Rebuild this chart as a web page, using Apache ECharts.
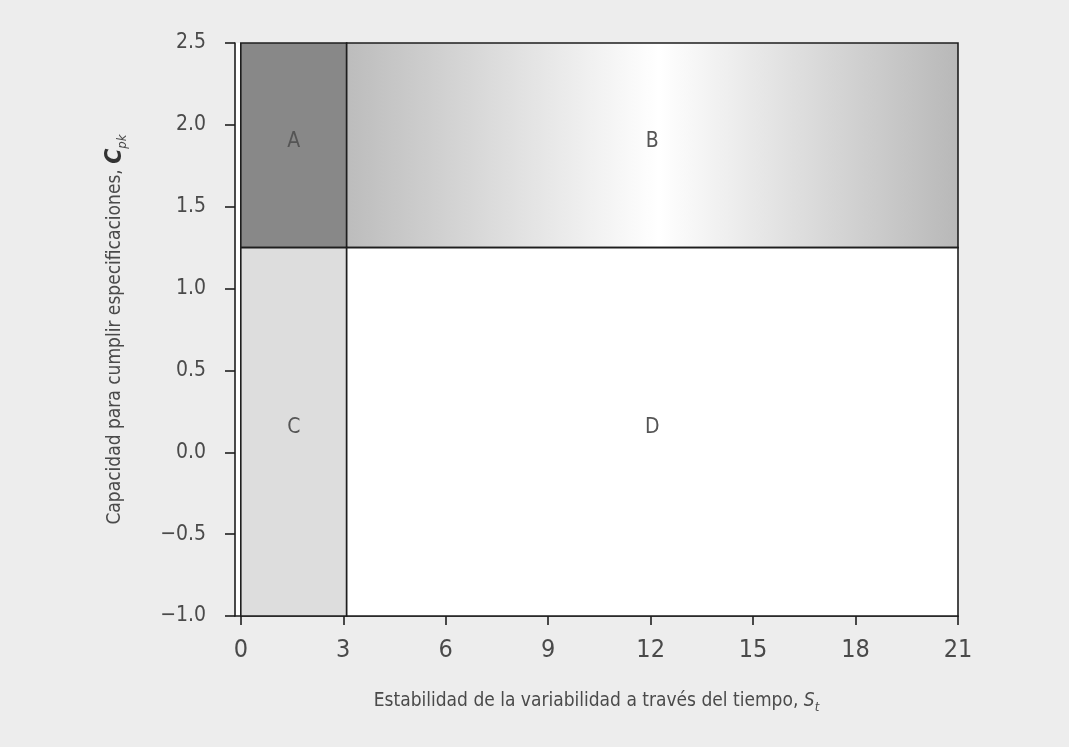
<!DOCTYPE html>
<html>
<head>
<meta charset="utf-8">
<script src="https://cdn.jsdelivr.net/npm/echarts@6/dist/echarts.min.js"></script>
<style>
html,body{margin:0;padding:0;background:#ededed;}
#chart{width:1069px;height:747px;}
</style>
</head>
<body>
<div id="chart"></div>
<script>
// ---- data ----
const regionNames = ['A', 'B', 'C', 'D'];
const regionX0 = [0, 3.1, 0, 3.1];
const regionX1 = [3.1, 21, 3.1, 21];
const regionY0 = [1.25, 1.25, -1.0, -1.0];
const regionY1 = [2.5, 2.5, 1.25, 1.25];
const xTicks = [0, 3, 6, 9, 12, 15, 18, 21];
const yMin = -1.0, yMax = 2.5, yStep = 0.5;

const FONT = "'Liberation Sans Narrow', 'DejaVu Sans Condensed', Roboto, sans-serif";
const regionFill = [
  '#888888',
  { type: 'linear', x: 0, y: 0, x2: 1, y2: 0, colorStops: [
      { offset: 0, color: '#bcbcbc' },
      { offset: 0.51, color: '#ffffff' },
      { offset: 1, color: '#b8b8b8' }] },
  '#dddddd',
  '#ffffff'
];

const areas = regionNames.map((n, i) => [
  { name: n, xAxis: regionX0[i], yAxis: regionY0[i],
    itemStyle: { color: regionFill[i], borderColor: '#1e1e1e', borderWidth: 1.6, opacity: 1 } },
  { xAxis: regionX1[i], yAxis: regionY1[i] }
]);

const chart = echarts.init(document.getElementById('chart'), null, { renderer: 'canvas' });
chart.setOption({
  backgroundColor: '#ededed',
  animation: false,
  textStyle: { fontFamily: FONT },
  grid: { left: 235, right: 111, top: 43, bottom: 131, show: true, backgroundColor: '#ffffff', borderWidth: 0 },
  xAxis: {
    type: 'value', min: -0.17, max: 21,
    splitLine: { show: false },
    axisLine: { onZero: false, lineStyle: { color: '#1e1e1e', width: 1.6 } },
    axisTick: { customValues: xTicks, length: 9, lineStyle: { color: '#1e1e1e', width: 1.6 } },
    axisLabel: { customValues: xTicks, fontSize: 25, color: '#4a4a4a', margin: 22, fontFamily: FONT },
    name: '{t|Estabilidad de la variabilidad a través del tiempo, }{s|S}{sub|t}',
    nameLocation: 'middle', nameGap: 72,
    nameTextStyle: {
      rich: {
        t: { fontSize: 19, color: '#4a4a4a', fontFamily: FONT, lineHeight: 26, verticalAlign: 'middle' },
        s: { fontSize: 19, color: '#4a4a4a', fontFamily: FONT, fontStyle: 'italic', lineHeight: 26, verticalAlign: 'middle' },
        sub: { fontSize: 13, color: '#4a4a4a', fontFamily: FONT, fontStyle: 'italic', verticalAlign: 'bottom', lineHeight: 26, padding: [11, 0, 0, 0] }
      }
    }
  },
  yAxis: {
    type: 'value', min: yMin, max: yMax, interval: yStep,
    splitLine: { show: false },
    axisLine: { show: true, onZero: false, lineStyle: { color: '#1e1e1e', width: 1.6 } },
    axisTick: { show: true, length: 10, lineStyle: { color: '#1e1e1e', width: 1.6 } },
    axisLabel: { fontSize: 21, color: '#4a4a4a', margin: 29, fontFamily: FONT,
      formatter: v => (v < 0 ? '\u2212' : '') + Math.abs(v).toFixed(1) },
    name: '{t|Capacidad para cumplir especificaciones, }{c|C}{sub|pk}',
    nameLocation: 'middle', nameGap: 106, nameRotate: 90,
    nameTextStyle: {
      rich: {
        t: { fontSize: 19, color: '#4a4a4a', fontFamily: FONT, lineHeight: 28, verticalAlign: 'middle' },
        c: { fontSize: 23, color: '#333', fontFamily: FONT, fontStyle: 'italic', fontWeight: 'bold', lineHeight: 28, verticalAlign: 'middle' },
        sub: { fontSize: 13, color: '#4a4a4a', fontFamily: FONT, fontStyle: 'italic', verticalAlign: 'bottom', lineHeight: 28, padding: [11, 0, 0, 0] }
      }
    }
  },
  series: [{
    type: 'line', data: [], silent: true,
    markArea: {
      silent: true,
      label: { show: true, position: 'inside', offset: [0, -4], fontSize: 21, color: '#555', fontFamily: FONT },
      data: areas
    }
  }]
});
</script>
</body>
</html>
